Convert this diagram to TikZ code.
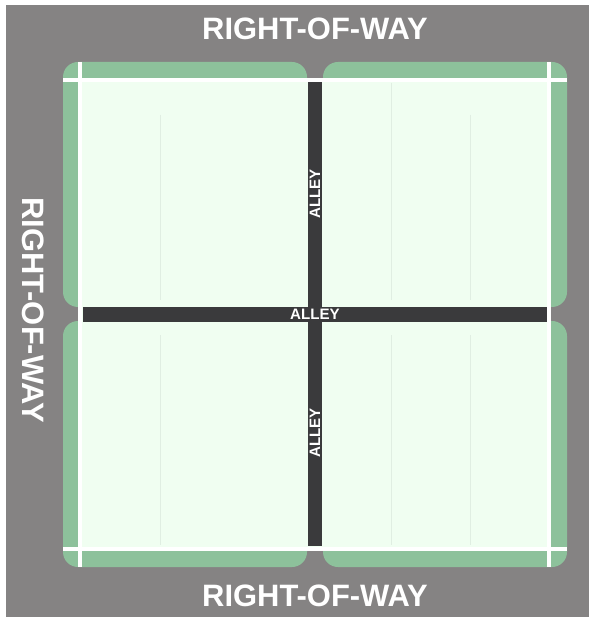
\documentclass[tikz,border=0pt]{standalone}
\usepackage{fontspec}
\setmainfont{Liberation Sans}
\usepackage{xcolor}
\definecolor{rowgray}{RGB}{133, 131, 131}
\definecolor{blockgreen}{RGB}{141, 193, 155}
\definecolor{lotmint}{RGB}{240, 254, 241}
\definecolor{alleydark}{RGB}{58, 58, 60}
\definecolor{lotfaint}{RGB}{224, 238, 226}
\tikzset{
  rowlabel/.style={white, font=\fontsize{17.6}{18}\selectfont\bfseries, inner sep=0pt},
  alleylabel/.style={white, font=\fontsize{8.6}{9}\selectfont\bfseries, inner sep=0pt},
  setback/.style={white, line width=0.08cm},
  lotline/.style={lotfaint, line width=0.02cm}
}

\begin{document}
\begin{tikzpicture}[x=0.02cm, y=-0.02cm]
  \useasboundingbox (0,0) rectangle (589,617);
  \fill[rowgray] (6,5) rectangle (589,617);

  % four green blocks
  \fill[blockgreen, rounded corners=0.3cm] (63,62) rectangle (307,307);
  \fill[blockgreen, rounded corners=0.3cm] (323,62) rectangle (567,307);
  \fill[blockgreen, rounded corners=0.3cm] (63,321) rectangle (307,567);
  \fill[blockgreen, rounded corners=0.3cm] (323,321) rectangle (567,567);

  % setback lines and lot area
  \fill[lotmint] (80,80) rectangle (549,549);
  \draw[setback] (63,80) -- (567,80);
  \draw[setback] (63,549) -- (567,549);
  \draw[setback] (80,62) -- (80,567);
  \draw[setback] (549,62) -- (549,567);

  % faint lot lines
  \draw[lotline] (160,115) -- (160,300);
  \draw[lotline] (391,83) -- (391,300);
  \draw[lotline] (470,115) -- (470,300);
  \draw[lotline] (160,335) -- (160,545);
  \draw[lotline] (391,335) -- (391,545);
  \draw[lotline] (470,335) -- (470,545);

  % alleys
  \fill[alleydark] (307.5,82) rectangle (322,546);
  \fill[alleydark] (83,307) rectangle (547,322);

  \node[rowlabel] (rowtop) at (315,29) {RIGHT-OF-WAY};
  \node[rowlabel] (rowbottom) at (315,596) {RIGHT-OF-WAY};
  \node[rowlabel, rotate=-90] (rowleft) at (33,310) {RIGHT-OF-WAY};
  \node[alleylabel] (alleymid) at (315,314.5) {ALLEY};
  \node[alleylabel, rotate=90] (alleyupper) at (315,194) {ALLEY};
  \node[alleylabel, rotate=90] (alleylower) at (315,433) {ALLEY};
\end{tikzpicture}
\end{document}
